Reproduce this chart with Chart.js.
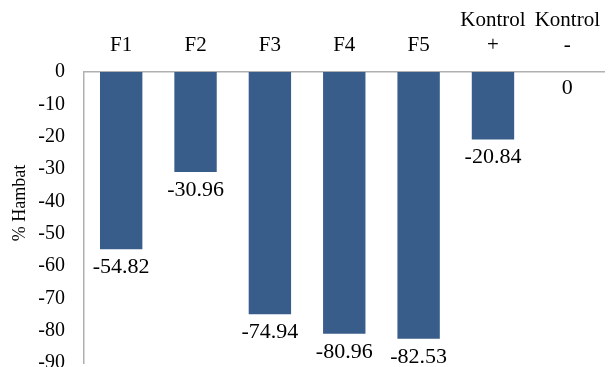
<!DOCTYPE html>
<html>
<head>
<meta charset="utf-8">
<script src="https://cdn.jsdelivr.net/npm/chart.js@4/dist/chart.umd.min.js"></script>
<style>
  html, body { margin: 0; padding: 0; background: #fff; overflow: hidden; }
  #wrap { width: 614px; height: 394px; }
</style>
</head>
<body>
<div id="wrap"><canvas id="chart" width="614" height="394"></canvas></div>
<script>
// values
var categories = [["F1"], ["F2"], ["F3"], ["F4"], ["F5"], ["Kontrol", "+"], ["Kontrol", "-"]];
var hambat = [-54.82, -30.96, -74.94, -80.96, -82.53, -20.84, 0];
var yTicks = [0, -10, -20, -30, -40, -50, -60, -70, -80, -90];
var yTitle = "% Hambat";

var serif = "'Liberation Serif', 'Times New Roman', serif";
var barColor = "#385D8A";

// value labels under each bar end, plus the y title (sits a bit above the middle)
var extras = {
    id: "extras",
    afterDatasetsDraw: function(chart) {
        var ctx = chart.ctx;
        var meta = chart.getDatasetMeta(0);
        ctx.save();
        ctx.font = "22px " + serif;
        ctx.fillStyle = "#000";
        ctx.textAlign = "center";
        ctx.textBaseline = "alphabetic";
        meta.data.forEach(function(bar, i) {
            var off = hambat[i] === 0 ? 22 : 24;
            ctx.fillText(String(hambat[i]), bar.x, bar.y + off);
        });
        ctx.restore();

        ctx.save();
        ctx.translate(20, 203);
        ctx.rotate(-Math.PI / 2);
        ctx.font = "18px " + serif;
        ctx.fillStyle = "#000";
        ctx.textAlign = "center";
        ctx.textBaseline = "middle";
        ctx.fillText(yTitle, 0, 0);
        ctx.restore();
    }
};

new Chart(document.getElementById("chart").getContext("2d"), {
    type: "bar",
    data: {
        labels: categories,
        datasets: [{
            data: hambat,
            backgroundColor: barColor,
            borderWidth: 0,
            categoryPercentage: 1,
            barPercentage: 0.57
        }]
    },
    options: {
        responsive: false,
        animation: false,
        layout: { padding: { top: 0, right: 0, bottom: 2, left: 0 } },
        plugins: { legend: { display: false }, tooltip: { enabled: false } },
        scales: {
            x: {
                position: "top",
                grid: { display: false, drawTicks: false },
                border: { display: true, color: "#B0B0B0", width: 1.5 },
                ticks: {
                    color: "#000",
                    font: { family: serif, size: 21 },
                    padding: 14,
                    maxRotation: 0,
                    autoSkip: false
                },
                afterFit: function(scale) { scale.height = 72; }
            },
            y: {
                min: -90,
                max: 0,
                afterBuildTicks: function(scale) {
                    scale.ticks = yTicks.map(function(v) { return { value: v }; });
                },
                grid: { display: false, drawTicks: false },
                border: { display: true, color: "#B0B0B0", width: 1.5 },
                ticks: {
                    color: "#000",
                    font: { family: serif, size: 20 },
                    padding: 19
                },
                afterFit: function(scale) { scale.width = 84; }
            }
        }
    },
    plugins: [extras]
});
</script>
</body>
</html>
